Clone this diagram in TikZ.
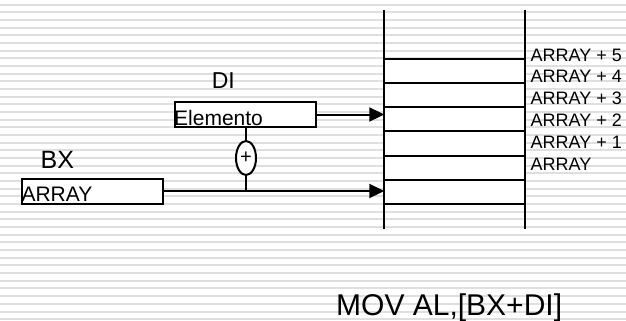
\documentclass[tikz,border=0pt]{standalone}
\usepackage{fontspec}
\setmainfont{Liberation Sans}
\usetikzlibrary{shapes,backgrounds,arrows.meta,positioning}

\tikzset{
    stripe/.style={line width=2pt, gray!25},
    wire/.style={line width=2pt},
    feed/.style={wire, -{Triangle[length=15pt, width=14pt]}},
    reg/.style={draw, line width=2pt, fill=white, minimum width=141pt, minimum height=25pt, inner sep=0pt},
    regtext/.style={anchor=base west, inner sep=0pt, font=\fontsize{21}{25}\selectfont},
    regname/.style={inner sep=0pt, font=\fontsize{23}{27}\selectfont},
    addr/.style={anchor=west, inner sep=0pt, font=\fontsize{18}{21}\selectfont},
    adder/.style={ellipse, draw, line width=2pt, fill=white, minimum width=20pt, minimum height=34pt, inner sep=0pt, font=\fontsize{20}{24}\selectfont}
}

\begin{document}
\begin{tikzpicture}[x=1pt, y=-1pt]

    % Frame
    \useasboundingbox (0,0) rectangle (626,321);

    % Background stripes
    \foreach \i in {0,...,41}
        \draw[stripe] (0, 4.7+7.67*\i) -- (626, 4.7+7.67*\i);

    % Coordinates of the memory column
    \coordinate (TL) at (384.3, 10);
    \coordinate (TR) at (525, 10);
    \coordinate (BL) at (384.3, 229);
    \coordinate (BR) at (525, 229);

    % Memory cells
    \fill[white] (384.3, 59) rectangle (525, 204);
    \foreach \k in {0,...,6}
        \draw[wire] (384.3, 204-24.17*\k) -- (525, 204-24.17*\k);
    \draw[wire] (TL) -- (BL);
    \draw[wire] (TR) -- (BR);

    % Addresses
    \foreach \t [count=\k from 0] in {ARRAY, ARRAY + 1, ARRAY + 2, ARRAY + 3, ARRAY + 4, ARRAY + 5}
        \node[addr] (M\k) at (530.5, 164-21.8*\k) {\t};

    % Registers
    \node[reg] (E) at (245.5, 114.5) {};
    \node[regtext] (Etext) at ([yshift=2.7pt]E.south west) {Elemento};
    \node[regname] (DI) at (223.3, 81) {DI};

    \node[reg] (R) at (92.8, 191) {};
    \node[regtext] (Rtext) at ([yshift=3.3pt]R.south west) {ARRAY};
    \node[regname, font=\fontsize{25}{30}\selectfont] (BX) at (57.3, 160) {BX};

    % Adder
    \node[adder] (S) at (246, 158) {+};

    % Arrow ends on the column
    \coordinate (P1) at (384.3, 114.5);
    \coordinate (P2) at (384.3, 191);

    % Connectors
    \draw[feed] (E.east) -- (P1);
    \draw[feed] (R.east) -- (P2);
    \draw[wire] (S.north) -- (S.north |- E.south);
    \draw[wire] (S.south) -- (S.south |- R.east);

    % Instruction
    \node[anchor=base west, inner sep=0pt, font=\fontsize{30}{36}\selectfont] (MOV) at (336, 315) {MOV AL,[BX+DI]};

\end{tikzpicture}
\end{document}
